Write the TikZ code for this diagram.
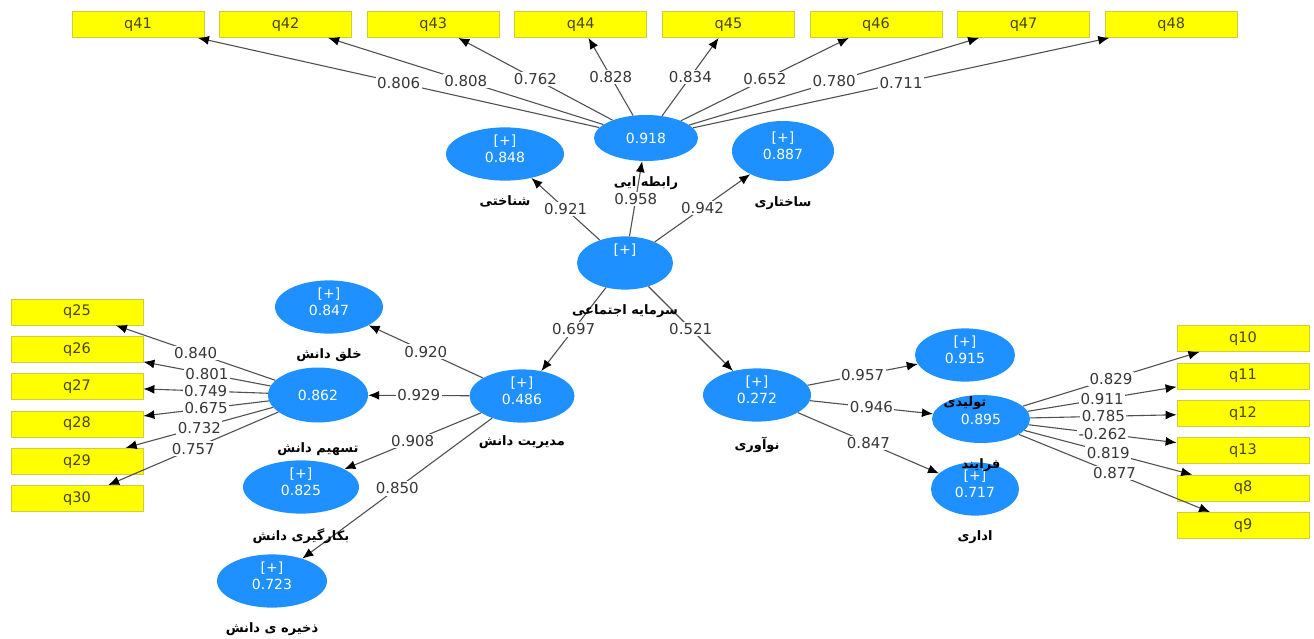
\documentclass[tikz,border=0pt]{standalone}
\usepackage{fontspec}
\setmainfont{DejaVu Sans}
\newfontfamily\fafont[Script=Arabic]{DejaVu Sans}
\usetikzlibrary{arrows.meta,positioning,shapes.geometric}
\TeXXeTstate=1
\definecolor{lvblue}{RGB}{30,144,255}
\definecolor{mvyellow}{RGB}{255,255,0}
\definecolor{mvedge}{RGB}{205,205,60}
\definecolor{mvtext}{RGB}{70,70,25}
\definecolor{pathgray}{RGB}{80,80,80}
\definecolor{valgray}{RGB}{55,55,55}

\begin{document}
\begin{tikzpicture}[x=1pt,y=-1pt,
 box/.style={draw=mvedge,fill=mvyellow,line width=.8pt,minimum width=132pt,minimum height=26pt,inner sep=0pt,text=mvtext,font=\fontsize{14.5}{16}\selectfont},
 lv/.style={ellipse,fill=lvblue,minimum width=104pt,minimum height=50pt,inner sep=0pt,align=center,text=white,font=\fontsize{14}{17}\selectfont},
 lvp/.style={lv,text depth=10pt},
 ttl/.style={inner sep=1pt,font=\fafont\bfseries\fontsize{13}{15}\selectfont},
 arr/.style={-{Latex[length=11pt,width=9pt,color=black]},line width=1.1pt,draw=pathgray},
 val/.style={fill=white,inner sep=1.5pt,text=valgray,font=\fontsize{15}{17}\selectfont}]
\useasboundingbox (0,0) rectangle (1314,639);
% indicators
\node[box] (q41) at (138,24.5) {q41};
\node[box,right=14.8pt of q41] (q42) {q42};
\node[box,right=14.8pt of q42] (q43) {q43};
\node[box,right=14.8pt of q43] (q44) {q44};
\node[box,right=14.8pt of q44] (q45) {q45};
\node[box,right=14.8pt of q45] (q46) {q46};
\node[box,right=14.8pt of q46] (q47) {q47};
\node[box,right=14.8pt of q47] (q48) {q48};
\node[box] (q25) at (77,312) {q25};
\node[box,below=10.5pt of q25] (q26) {q26};
\node[box,below=10.5pt of q26] (q27) {q27};
\node[box,below=10.5pt of q27] (q28) {q28};
\node[box,below=10.5pt of q28] (q29) {q29};
\node[box,below=10.5pt of q29] (q30) {q30};
\node[box] (q10) at (1243,338.5) {q10};
\node[box,below=10.6pt of q10] (q11) {q11};
\node[box,below=10.6pt of q11] (q12) {q12};
\node[box,below=10.6pt of q12] (q13) {q13};
\node[box,below=10.6pt of q13] (q8) {q8};
\node[box,below=10.6pt of q8] (q9) {q9};
% constructs
\node[lvp,minimum width=118pt,minimum height=52pt] (cog) at (505,154) {[+]\\0.848};
\node[lv,minimum height=46pt] (rel) at (646,138) {0.918};
\node[lvp,minimum width=102pt,minimum height=60pt] (str) at (783,151) {[+]\\0.887};
\node[lvp,minimum width=96pt,minimum height=44pt] (soc) at (625,263) {[+]\\\phantom{0.0}};
\node[lvp,minimum width=108pt] (kc) at (329,307) {[+]\\0.847};
\node[lv,minimum width=100pt,minimum height=55pt] (ks) at (318,395) {0.862};
\node[lvp,minimum width=105pt,minimum height=48pt] (km) at (522,396) {[+]\\0.486};
\node[lvp,minimum width=116pt,minimum height=53pt] (ka) at (301,487) {[+]\\0.825};
\node[lvp,minimum width=110pt,minimum height=53pt] (kst) at (272,581) {[+]\\0.723};
\node[lvp,minimum width=108pt] (inn) at (757,395) {[+]\\0.272};
\node[lvp,minimum width=100pt] (prod) at (965,355) {[+]\\0.915};
\node[lv,minimum width=98pt,minimum height=48pt] (proc) at (981,419) {0.895};
\node[lvp,minimum width=88pt,minimum height=48pt] (adm) at (975,489) {[+]\\0.717};
% paths
\draw[arr] (soc)--(cog) node[val,midway] (p1) {0.921}; \draw[arr] (soc)--(rel) node[val,midway] (p2) {0.958};
\draw[arr] (soc)--(str) node[val,midway] (p3) {0.942}; \draw[arr] (soc)--(km) node[val,midway] (p4) {0.697};
\draw[arr] (soc)--(inn) node[val,midway] (p5) {0.521};
\draw[arr] (km)--(kc) node[val,midway] (p6) {0.920}; \draw[arr] (km)--(ks) node[val,midway] (p7) {0.929};
\draw[arr] (km)--(ka) node[val,midway] (p8) {0.908}; \draw[arr] (km)--(kst) node[val,midway] (p9) {0.850};
\draw[arr] (inn)--(prod) node[val,midway] (p10) {0.957}; \draw[arr] (inn)--(proc) node[val,midway] (p11) {0.946};
\draw[arr] (inn)--(adm) node[val,midway] (p12) {0.847};
% loadings
\draw[arr] (rel)--(q41) node[val,midway] (l41) {0.806}; \draw[arr] (rel)--(q42) node[val,midway] (l42) {0.808};
\draw[arr] (rel)--(q43) node[val,midway] (l43) {0.762}; \draw[arr] (rel)--(q44) node[val,midway] (l44) {0.828};
\draw[arr] (rel)--(q45) node[val,midway] (l45) {0.834}; \draw[arr] (rel)--(q46) node[val,midway] (l46) {0.652};
\draw[arr] (rel)--(q47) node[val,midway] (l47) {0.780}; \draw[arr] (rel)--(q48) node[val,midway] (l48) {0.711};
\draw[arr] (ks)--(q25) node[val,midway] (l25) {0.840}; \draw[arr] (ks)--(q26) node[val,midway] (l26) {0.801};
\draw[arr] (ks)--(q27) node[val,midway] (l27) {0.749}; \draw[arr] (ks)--(q28) node[val,midway] (l28) {0.675};
\draw[arr] (ks)--(q29) node[val,midway] (l29) {0.732}; \draw[arr] (ks)--(q30) node[val,midway] (l30) {0.757};
\draw[arr] (proc)--(q10) node[val,midway] (l10) {0.829}; \draw[arr] (proc)--(q11) node[val,midway] (l11) {0.911};
\draw[arr] (proc)--(q12) node[val,midway] (l12) {0.785}; \draw[arr] (proc)--(q13) node[val,midway] (l13) {-0.262};
\draw[arr] (proc)--(q8) node[val,midway] (l8) {0.819}; \draw[arr] (proc)--(q9) node[val,midway] (l9) {0.877};
% construct names
\node[ttl,below=14pt of cog] (cog-t) {\beginR شناختی\endR};
\node[ttl,below=14pt of rel] (rel-t) {\beginR رابطه ایی\endR};
\node[ttl,below=14pt of str] (str-t) {\beginR ساختاری\endR};
\node[ttl,below=14pt of soc] (soc-t) {\beginR سرمایه اجتماعی\endR};
\node[ttl,below=14pt of kc] (kc-t) {\beginR خلق دانش\endR};
\node[ttl,below=19pt of ks] (ks-t) {\beginR تسهیم دانش\endR};
\node[ttl,below=12pt of km] (km-t) {\beginR مدیریت دانش\endR};
\node[ttl,below=14pt of ka] (ka-t) {\beginR بکارگیری دانش\endR};
\node[ttl,below=14pt of kst] (kst-t) {\beginR ذخیره ی دانش\endR};
\node[ttl,below=14pt of inn] (inn-t) {\beginR نوآوری\endR};
\node[ttl,below=14pt of prod] (prod-t) {\beginR تولیدی\endR};
\node[ttl,below=14pt of proc] (proc-t) {\beginR فرایند\endR};
\node[ttl,below=14pt of adm] (adm-t) {\beginR اداری\endR};
\end{tikzpicture}
\end{document}
